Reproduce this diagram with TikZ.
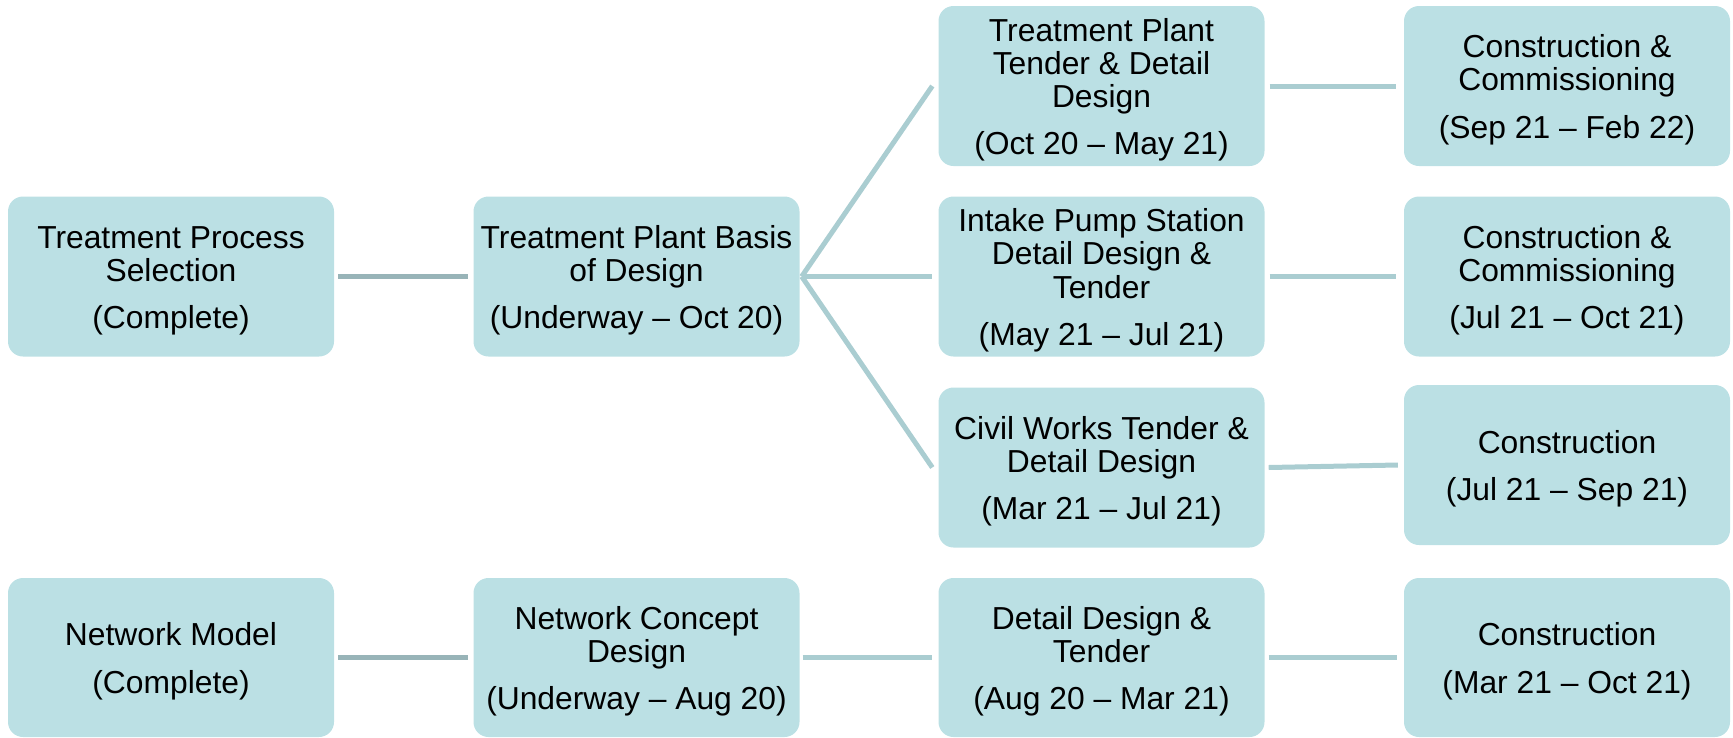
\documentclass[tikz,border=0pt]{standalone}
\usepackage{fontspec}
\setmainfont{Liberation Sans}
\definecolor{boxfill}{HTML}{BBE0E4}
\definecolor{linedark}{HTML}{98B4B8}
\definecolor{linelight}{HTML}{AACDD1}
\newcommand\mytopstrut{\rule{0pt}{30.5pt}}
\begin{document}
\begin{tikzpicture}[x=1pt,y=-1pt,
  box/.style={fill=boxfill, rounded corners=15pt, minimum width=326pt, minimum height=160pt,
    inner sep=0pt, align=center, font=\fontsize{31.8}{33.2}\selectfont, text=black},
  darkconn/.style={line width=5pt, draw=linedark},
  lightconn/.style={line width=5pt, draw=linelight}]
\useasboundingbox (0,0) rectangle (1733,737);
% column 1
\node[box] (a2) at (171,276.5) {\mytopstrut Treatment Process\\Selection\\[14pt](Complete)};
\node[box, minimum height=159pt] (a4) at (171,657.5) {\mytopstrut Network Model\\[14pt](Complete)};
% column 2
\node[box] (b2) at (636.5,276.5) {\mytopstrut Treatment Plant Basis\\of Design\\[14pt](Underway -- Oct 20)};
\node[box, minimum height=159pt] (b4) at (636.5,657.5) {\mytopstrut Network Concept\\Design\\[14pt](Underway -- Aug 20)};
% column 3
\node[box] (t1) at (1101.5,86) {\mytopstrut Treatment Plant\\Tender \& Detail\\Design\\[14pt](Oct 20 -- May 21)};
\node[box] (t2) at (1101.5,276.5) {\mytopstrut Intake Pump Station\\Detail Design \&\\Tender\\[14pt](May 21 -- Jul 21)};
\node[box] (t3) at (1101.5,467.5) {\mytopstrut Civil Works Tender \&\\Detail Design\\[14pt](Mar 21 -- Jul 21)};
\node[box, minimum height=159pt] (t4) at (1101.5,657.5) {\mytopstrut Detail Design \&\\Tender\\[14pt](Aug 20 -- Mar 21)};
% column 4
\node[box] (c1) at (1567,86) {\mytopstrut Construction \&\\Commissioning\\[14pt](Sep 21 -- Feb 22)};
\node[box] (c2) at (1567,276.5) {\mytopstrut Construction \&\\Commissioning\\[14pt](Jul 21 -- Oct 21)};
\node[box] (c3) at (1567,465) {\mytopstrut Construction\\[14pt](Jul 21 -- Sep 21)};
\node[box, minimum height=159pt] (c4) at (1567,657.5) {\mytopstrut Construction\\[14pt](Mar 21 -- Oct 21)};
% connectors
\draw[darkconn] ([xshift=4pt]a2.east) -- ([xshift=-5pt]b2.west);
\draw[darkconn] ([xshift=4pt]a4.east) -- ([xshift=-5pt]b4.west);
\draw[lightconn] ([xshift=2pt]b2.east) -- ([xshift=-6pt]t1.west);
\draw[lightconn] ([xshift=2pt]b2.east) -- ([xshift=-6pt]t2.west);
\draw[lightconn] ([xshift=2pt]b2.east) -- ([xshift=-6pt]t3.west);
\draw[lightconn] ([xshift=3pt]b4.east) -- ([xshift=-6pt]t4.west);
\draw[lightconn] ([xshift=5pt]t1.east) -- ([xshift=-8pt]c1.west);
\draw[lightconn] ([xshift=5pt]t2.east) -- ([xshift=-8pt]c2.west);
\draw[lightconn] ([xshift=4pt]t3.east) -- ([xshift=-6pt]c3.west);
\draw[lightconn] ([xshift=4pt]t4.east) -- ([xshift=-7pt]c4.west);
\end{tikzpicture}
\end{document}
